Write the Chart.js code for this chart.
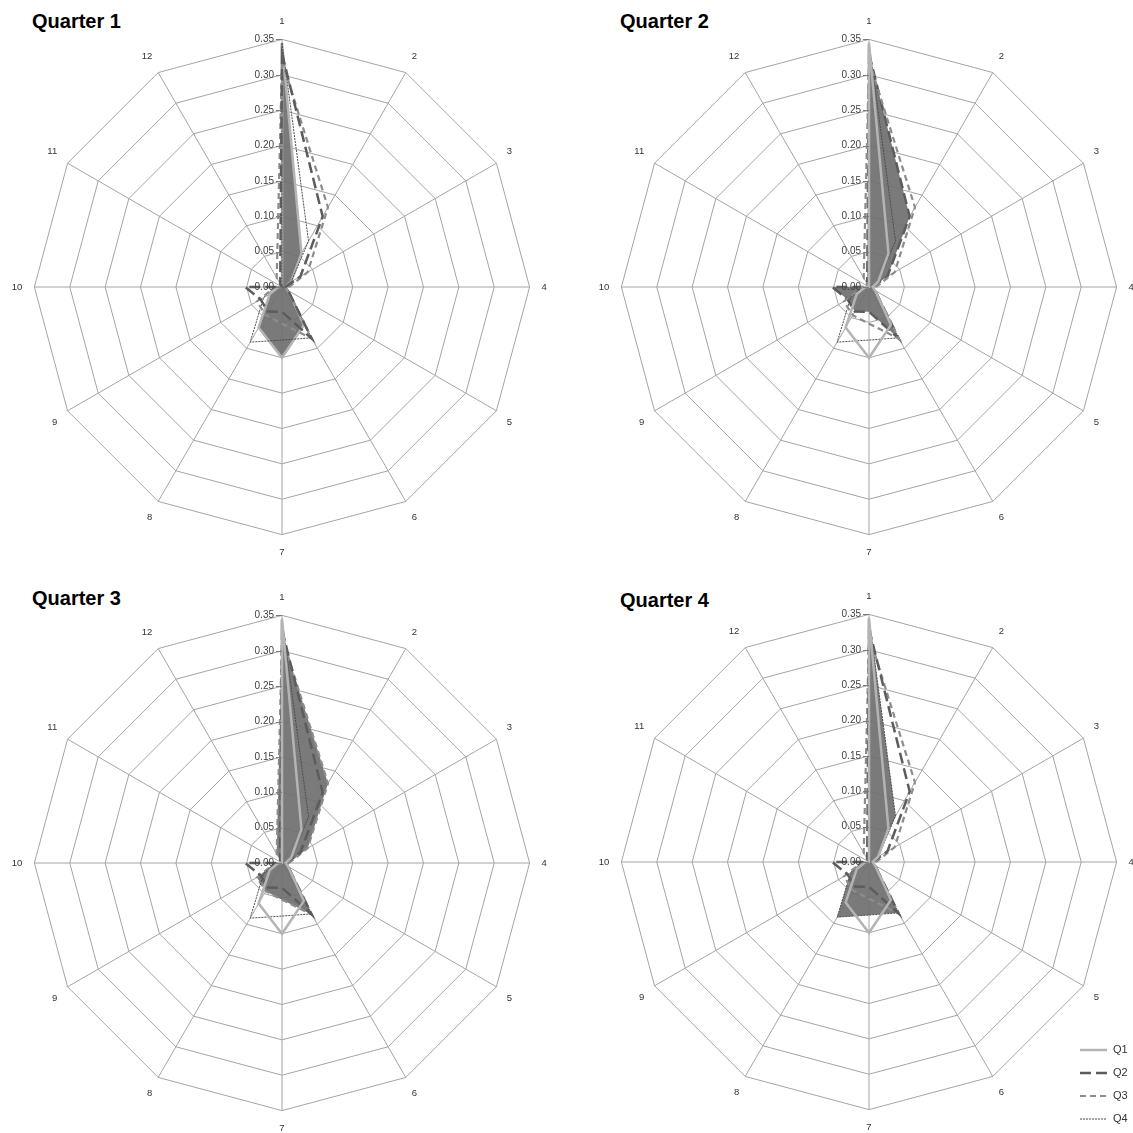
<!DOCTYPE html>
<html>
<head>
<meta charset="utf-8">
<script src="https://cdn.jsdelivr.net/npm/chart.js@4/dist/chart.umd.min.js"></script>
<style>
  body { margin: 0; background: #fff; width: 1133px; height: 1133px; overflow: hidden; position: relative; font-family: "Liberation Sans", Arial, sans-serif; }
  canvas { position: absolute; }
  .title { position: absolute; font-size: 20px; font-weight: bold; line-height: 20px; color: #000; }
  #legend { position: absolute; left: 1080px; top: 1040px; font-size: 11px; color: #333; }
  #legend div { height: 23px; line-height: 18px; white-space: nowrap; }
  #legend svg { vertical-align: middle; }
</style>
</head>
<body>
<div class="title" style="left:32px;top:11px">Quarter 1</div>
<div class="title" style="left:620px;top:11px">Quarter 2</div>
<div class="title" style="left:32px;top:588px">Quarter 3</div>
<div class="title" style="left:620px;top:590px">Quarter 4</div>
<canvas id="q1" width="543" height="543" style="left:8px;top:16px"></canvas>
<canvas id="q2" width="543" height="543" style="left:595px;top:16px"></canvas>
<canvas id="q3" width="543" height="543" style="left:8px;top:592px"></canvas>
<canvas id="q4" width="543" height="543" style="left:595px;top:591px"></canvas>
<div id="legend"></div>
<script>
// spokes (months 1..12, clockwise from top)
var labels = ["1", "2", "3", "4", "5", "6", "7", "8", "9", "10", "11", "12"];

// share per spoke
var q1 = [0.345, 0.055, 0.015, 0.005, 0.010, 0.062, 0.100, 0.066, 0.020, 0.005, 0.000, 0.000];
var q2 = [0.330, 0.115, 0.030, 0.005, 0.010, 0.084, 0.035, 0.040, 0.035, 0.052, 0.000, 0.005];
var q3 = [0.320, 0.130, 0.042, 0.010, 0.010, 0.084, 0.052, 0.046, 0.041, 0.010, 0.000, 0.015];
var q4 = [0.345, 0.075, 0.015, 0.005, 0.010, 0.083, 0.075, 0.090, 0.030, 0.010, 0.000, 0.000];

var tickValues = [0, 0.05, 0.10, 0.15, 0.20, 0.25, 0.30, 0.35];
var tickLabels = ["0.00", "0.05", "0.10", "0.15", "0.20", "0.25", "0.30", "0.35"];

var seriesNames = ["Q1", "Q2", "Q3", "Q4"];
var seriesData = [q1, q2, q3, q4];
var seriesStyle = [
    { color: "#b4b4b4", width: 2.5, dash: [] },
    { color: "#5c5c5c", width: 2.5, dash: [11, 5] },
    { color: "#8c8c8c", width: 2.2, dash: [6, 4] },
    { color: "#4a4a4a", width: 1, dash: [2, 1] }
];
var fillColor = "rgba(112,112,112,0.93)";

// excel style value labels left of the first spoke
var tickLabelPlugin = {
    id: "tickLabels",
    afterDraw: function (chart) {
        var scale = chart.scales.r;
        var ctx = chart.ctx;
        ctx.save();
        ctx.font = '10px "Liberation Sans"';
        ctx.fillStyle = "#404040";
        ctx.strokeStyle = "#7a7a7a";
        ctx.lineWidth = 1;
        ctx.textAlign = "right";
        ctx.textBaseline = "middle";
        for (var i = 0; i < tickValues.length; i++) {
            var y = scale.yCenter - scale.getDistanceFromCenterForValue(tickValues[i]);
            ctx.beginPath();
            ctx.moveTo(scale.xCenter - 6, Math.round(y) + 0.5);
            ctx.lineTo(scale.xCenter, Math.round(y) + 0.5);
            ctx.stroke();
            ctx.fillText(tickLabels[i], scale.xCenter - 8, y);
        }
        ctx.restore();
    }
};

function makeRadar(id, filledIndex) {
    var datasets = [];
    for (var i = 0; i < seriesData.length; i++) {
        var st = seriesStyle[i];
        var filled = (i === filledIndex);
        datasets.push({
            label: seriesNames[i],
            data: seriesData[i],
            borderColor: st.color,
            borderWidth: st.width,
            borderDash: st.dash,
            backgroundColor: filled ? fillColor : "rgba(0,0,0,0)",
            fill: filled ? "origin" : false,
            order: filled ? 1 : 0,
            pointRadius: 0,
            tension: 0
        });
    }
    var ctx = document.getElementById(id).getContext("2d");
    new Chart(ctx, {
        type: "radar",
        data: { labels: labels, datasets: datasets },
        options: {
            responsive: false,
            animation: false,
            devicePixelRatio: 1,
            layout: { padding: 0 },
            plugins: { legend: { display: false }, tooltip: { enabled: false } },
            scales: {
                r: {
                    min: 0,
                    max: 0.35,
                    ticks: { stepSize: 0.05, display: false },
                    grid: { color: "#a4a4a4", lineWidth: 1 },
                    angleLines: { color: "#a4a4a4", lineWidth: 1 },
                    pointLabels: {
                        padding: 12,
                        color: "#333",
                        font: { family: "Liberation Sans", size: 9.5 }
                    }
                }
            }
        },
        plugins: [tickLabelPlugin]
    });
}

makeRadar("q1", 0);
makeRadar("q2", 1);
makeRadar("q3", 2);
makeRadar("q4", 3);

// legend, bottom right
var legendHtml = "";
for (var j = 0; j < seriesNames.length; j++) {
    var s = seriesStyle[j];
    legendHtml += '<div><svg width="30" height="10"><line x1="0" y1="5" x2="27" y2="5" stroke="' + s.color +
        '" stroke-width="' + s.width + '" stroke-dasharray="' + (s.dash.length ? s.dash.join(",") : "none") +
        '"/></svg> ' + seriesNames[j] + '</div>';
}
document.getElementById("legend").innerHTML = legendHtml;
</script>
</body>
</html>
